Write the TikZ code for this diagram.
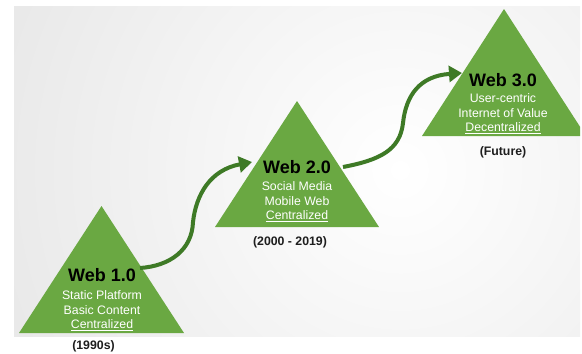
\documentclass[tikz,border=0pt]{standalone}
\usepackage{fontspec}
\setmainfont{Liberation Sans}
\usetikzlibrary{arrows.meta}
\definecolor{trigreen}{RGB}{106,168,66}
\definecolor{arrgreen}{RGB}{62,122,38}
\definecolor{yeartext}{RGB}{30,30,30}
\begin{document}
\begin{tikzpicture}[x=1pt,y=-1pt,
  tribox/.style={fill=trigreen},
  titletext/.style={font=\bfseries\fontsize{18}{20}\selectfont, text=black, inner sep=0pt},
  subtext/.style={font=\fontsize{12.3}{14.5}\selectfont, text=white, align=center, inner sep=0pt, anchor=north},
  yeartextstyle/.style={font=\bfseries\fontsize{12.3}{14}\selectfont, text=yeartext, inner sep=0pt},
  flow/.style={draw=arrgreen, line width=4pt, -{Triangle[length=13pt,width=16pt]}}]
\useasboundingbox (0,0) rectangle (582,354);
% background
\begin{scope}
\clip (14,6) rectangle (580,336);
\shade[inner color=white, outer color=black!9] (400,170) circle (430pt);
\end{scope}
% triangles
\fill[tribox] (101.5,206) -- (184,333) -- (19,333) -- cycle;
\fill[tribox] (297,101) -- (379,227) -- (215,227) -- cycle;
\begin{scope}
\clip (0,0) rectangle (580,354);
\fill[tribox] (504,9) -- (586,136) -- (422,136) -- cycle;
\end{scope}
% texts
\node[titletext] (t1) at (102,275) {Web 1.0};
\node[subtext] (s1) at (102,290.5) {Static Platform\\Basic Content\\\underline{Centralized}};
\node[yeartextstyle] (y1) at (93.5,346) {(1990s)};
\node[titletext] (t2) at (297,167) {Web 2.0};
\node[subtext] (s2) at (297,181.5) {Social Media\\Mobile Web\\\underline{Centralized}};
\node[yeartextstyle] (y2) at (290,242) {(2000 - 2019)};
\node[titletext] (t3) at (503,80) {Web 3.0};
\node[subtext] (s3) at (503,93.5) {User-centric\\Internet of Value\\\underline{Decentralized}};
\node[yeartextstyle] (y3) at (503,152) {(Future)};
% arrows
\coordinate (a1s) at (140,268);
\coordinate (a1m) at (193,222);
\coordinate (a1e) at (252,162);
\coordinate (a2s) at (343,167);
\coordinate (a2m) at (403,123);
\coordinate (a2e) at (462,73);
\draw[flow] (a1s) .. controls (170,266) and (192,250) .. (a1m)
  .. controls (196,195) and (210,170) .. (a1e);
\draw[flow] (a2s) .. controls (380,160) and (400,150) .. (a2m)
  .. controls (406,95) and (420,76) .. (a2e);
\end{tikzpicture}
\end{document}
